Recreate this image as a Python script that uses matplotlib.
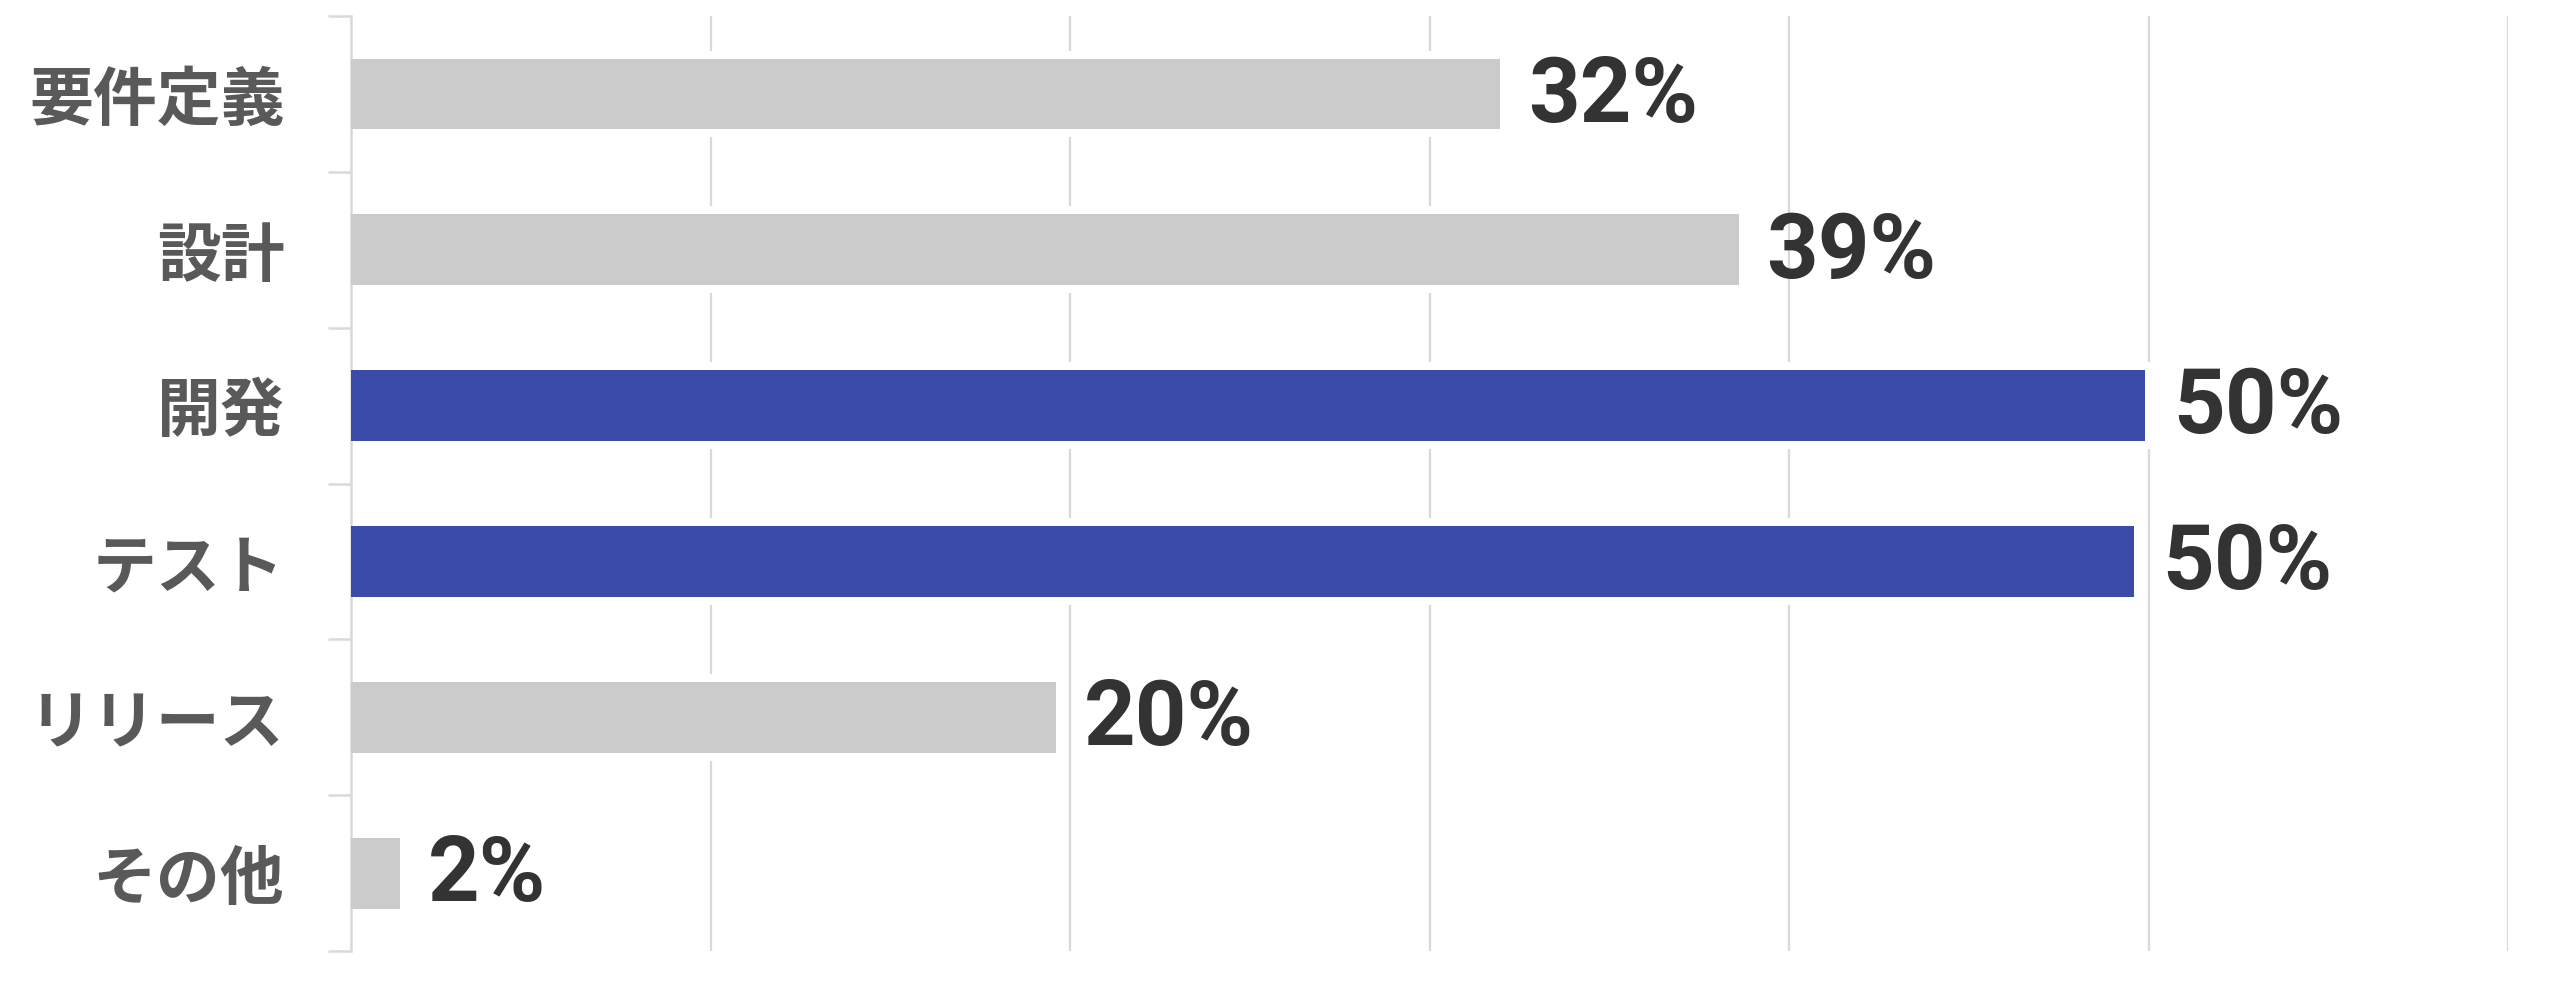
import matplotlib.pyplot as plt
from matplotlib.ticker import FixedLocator

# data (percent)
phases = ['要件定義', '設計', '開発', 'テスト', 'リリース', 'その他']
shares = [31.96, 38.6, 49.9, 49.6, 19.6, 1.36]
share_labels = ['32%', '39%', '50%', '50%', '20%', '2%']
highlight = [False, False, True, True, False, False]

gray = '#CBCBCB'
blue = '#3A4BA8'
line_gray = '#D9D9D9'

plt.rcParams['font.family'] = ['Noto Sans CJK JP', 'DejaVu Sans']

fig = plt.figure(figsize=(25.59, 10.05), dpi=100)
ax = fig.add_axes([0.1372, 0.0537, 0.8429, 0.9303])

ypos = list(range(len(phases)))
colors = [blue if h else gray for h in highlight]

# white halo round the bars (hides the grid just around them)
ax.barh(ypos, shares, height=0.455, color='white', edgecolor='white',
        linewidth=11.5, zorder=2)
ax.barh(ypos, shares, height=0.455, color=colors, linewidth=0, zorder=3)

for y, v, lab in zip(ypos, shares, share_labels):
    ax.annotate(lab, (v, y), xytext=(20, -2), textcoords='offset points',
                ha='left', va='center', fontsize=65, fontweight='bold',
                color='#333333', family=['Roboto', 'DejaVu Sans'], zorder=4)

ax.set_xlim(0, 60)
ax.set_ylim(len(phases) - 0.5, -0.5)

ax.set_xticks([10, 20, 30, 40, 50, 60])
ax.tick_params(axis='x', length=0, labelbottom=False)
ax.grid(axis='x', color=line_gray, linewidth=1.6, zorder=0)
ax.set_axisbelow(True)

ax.set_yticks(ypos)
ax.set_yticklabels(phases, fontsize=46, fontweight='bold', color='#595959')
ax.tick_params(axis='y', which='major', length=0, pad=48)
ax.yaxis.set_minor_locator(FixedLocator([i - 0.5 for i in range(len(phases) + 1)]))
ax.tick_params(axis='y', which='minor', length=16.5, width=1.8, color=line_gray)

for s in ['top', 'right', 'bottom']:
    ax.spines[s].set_visible(False)
ax.spines['left'].set_color(line_gray)
ax.spines['left'].set_linewidth(1.8)

fig.savefig('out.png', dpi=100, facecolor='white')
